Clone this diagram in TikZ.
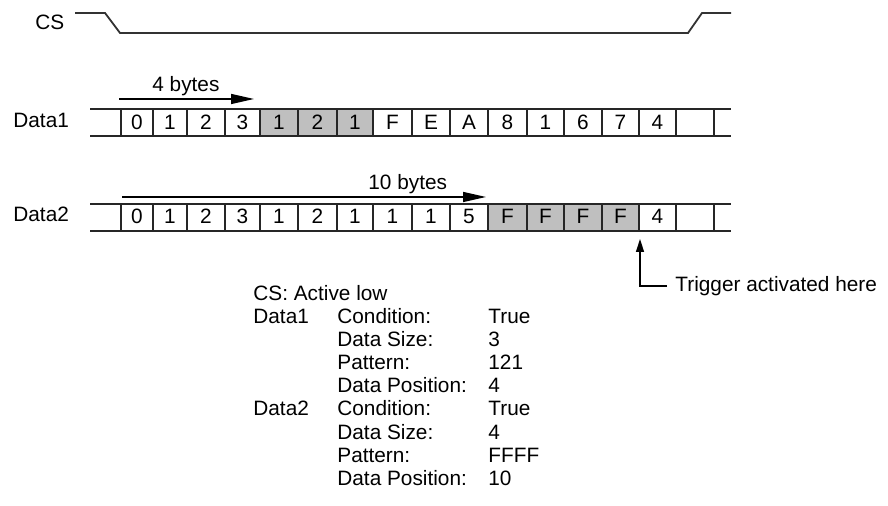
\documentclass[tikz,border=0pt]{standalone}
\usepackage{fontspec}
\setmainfont{Liberation Sans}
\usetikzlibrary{arrows.meta}
\begin{document}
\begin{tikzpicture}[x=0.5pt,y=-0.5pt,
  font=\fontsize{10.4}{12}\selectfont,
  lbl/.style={inner sep=0pt, anchor=base west},
  celltxt/.style={inner sep=0pt, anchor=base},
  rowline/.style={line width=0.75pt, draw=black!85},
  wave/.style={line width=0.9pt, draw=black!80},
  span/.style={line width=0.7pt, -{Triangle[length=11.5pt,width=5pt]}},
  hit/.style={fill=black!25, draw=none}]
\useasboundingbox (0,0) rectangle (888,506);

% ---- chip select waveform ----
\node[lbl] (cslbl) at (35,30) {CS};
\coordinate (cs0) at (75,13);
\coordinate (cs1) at (105,13);
\coordinate (cs2) at (120,33);
\coordinate (cs3) at (688,33);
\coordinate (cs4) at (702,13);
\coordinate (cs5) at (731,13);
\draw[wave] (cs0) -- (cs1) -- (cs2) -- (cs3) -- (cs4) -- (cs5);

% ---- Data1 row ----
\node[lbl] (d1lbl) at (13,128) {Data1};
\fill[hit] (260,109) rectangle (373,136);
\draw[rowline] (90,109) -- (731,109) (90,136) -- (731,136);
\foreach \x in {121,153,187,225,260,298,337,373,412,450,488,527,564,602,639,676,714}
  \draw[rowline] (\x,109) -- (\x,136);
\foreach \l/\r/\t [count=\k] in {121/153/0,153/187/1,187/225/2,225/260/3,260/298/1,
    298/337/2,337/373/1,373/412/F,412/450/E,450/488/A,488/527/8,527/564/1,
    564/602/6,602/639/7,639/676/4}
  \node[celltxt] (da\k) at ({(\l+\r)/2},130) {\t};

% ---- Data2 row ----
\node[lbl] (d2lbl) at (13,222) {Data2};
\fill[hit] (488,204) rectangle (639,231);
\draw[rowline] (90,204) -- (731,204) (90,231) -- (731,231);
\foreach \x in {121,153,187,225,260,298,337,373,412,450,488,527,564,602,639,676,714}
  \draw[rowline] (\x,204) -- (\x,231);
\foreach \l/\r/\t [count=\k] in {121/153/0,153/187/1,187/225/2,225/260/3,260/298/1,
    298/337/2,337/373/1,373/412/1,412/450/1,450/488/5,488/527/F,527/564/F,
    564/602/F,602/639/F,639/676/4}
  \node[celltxt] (db\k) at ({(\l+\r)/2},224) {\t};

% ---- offset arrows ----
\node[lbl] (four) at (152,92) {4 bytes};
\coordinate (fourA) at (119,99);
\coordinate (fourB) at (254,99);
\draw[span] (fourA) -- (fourB);

\node[lbl] (ten) at (368,190) {10 bytes};
\coordinate (tenA) at (122,197);
\coordinate (tenB) at (486,197);
\draw[span] (tenA) -- (tenB);

% ---- trigger marker ----
\node[lbl] (trig) at (675,292) {Trigger activated here};
\coordinate (trigend) at (667,286);
\coordinate (trigbend) at (640,286);
\coordinate (trigtip) at (640,239);
\draw[line width=0.7pt, -{Triangle[length=6.5pt,width=4pt]}]
  (trigend) -- (trigbend) -- (trigtip);

% ---- settings summary ----
\node[lbl] (s0)  at (253,300.5) {CS: Active low};
\node[lbl] (s1a) at (253,323.6) {Data1};
\node[lbl] (s1b) at (337,323.6) {Condition:};
\node[lbl] (s1c) at (488,323.6) {True};
\node[lbl] (s2b) at (337,346.7) {Data Size:};
\node[lbl] (s2c) at (488,346.7) {3};
\node[lbl] (s3b) at (337,369.8) {Pattern:};
\node[lbl] (s3c) at (488,369.8) {121};
\node[lbl] (s4b) at (337,392.9) {Data Position:};
\node[lbl] (s4c) at (488,392.9) {4};
\node[lbl] (s5a) at (253,416) {Data2};
\node[lbl] (s5b) at (337,416) {Condition:};
\node[lbl] (s5c) at (488,416) {True};
\node[lbl] (s6b) at (337,439.1) {Data Size:};
\node[lbl] (s6c) at (488,439.1) {4};
\node[lbl] (s7b) at (337,462.2) {Pattern:};
\node[lbl] (s7c) at (488,462.2) {FFFF};
\node[lbl] (s8b) at (337,485.3) {Data Position:};
\node[lbl] (s8c) at (488,485.3) {10};
\end{tikzpicture}
\end{document}
